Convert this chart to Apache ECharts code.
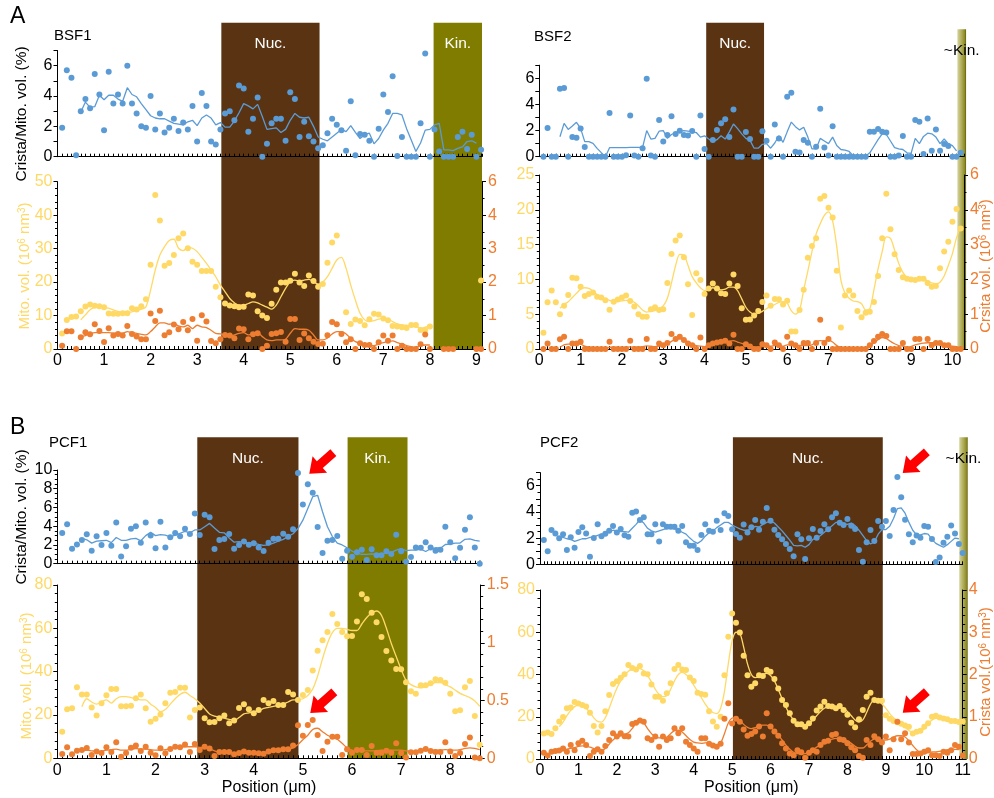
<!DOCTYPE html>
<html>
<head>
<meta charset="utf-8">
<script src="https://cdn.jsdelivr.net/npm/echarts@6/dist/echarts.min.js"></script>
<style>html,body{margin:0;padding:0;background:#fff}#c{width:994px;height:798px}</style>
</head>
<body>
<div id="c"></div>
<script>
// ---------------- DATA ----------------
const POSITIONS = [
0.1,0.2,0.3,0.4,0.5,0.6,0.7,0.8,0.9,1.0,
1.1,1.2,1.3,1.4,1.5,1.6,1.7,1.8,1.9,2.0,
2.1,2.2,2.3,2.4,2.5,2.6,2.7,2.8,2.9,3.0,
3.1,3.2,3.3,3.4,3.5,3.6,3.7,3.8,3.9,4.0,
4.1,4.2,4.3,4.4,4.5,4.6,4.7,4.8,4.9,5.0,
5.1,5.2,5.3,5.4,5.5,5.6,5.7,5.8,5.9,6.0,
6.1,6.2,6.3,6.4,6.5,6.6,6.7,6.8,6.9,7.0,
7.1,7.2,7.3,7.4,7.5,7.6,7.7,7.8,7.9,8.0,
8.1,8.2,8.3,8.4,8.5,8.6,8.7,8.8,8.9,9.0,
9.1,9.2,9.3,9.4,9.5,9.6,9.7,9.8,9.9,10.0,
10.1,10.2,10.3,10.4,10.5,10.6,10.7,10.8,10.9,11.0];

// ---- BSF1 ----
const BSF1_ratio = [
1.9,5.7,5.2,0.1,3.0,3.8,3.2,5.45,4.1,1.75,
5.6,3.5,4.1,3.5,6.0,3.5,2.85,2.0,1.9,4.0,
1.8,2.85,1.6,1.9,2.5,1.7,2.25,1.8,3.35,1.0,
4.2,3.35,1.0,0.8,1.8,2.85,3.0,2.4,4.7,4.5,
1.65,2.5,3.9,0,0.85,2.2,2.5,2.5,1.05,4.25,
3.8,1.3,2.3,1.35,1.0,0.55,0.75,1.55,2.5,2.1,
1.75,0.4,3.65,0.1,1.5,1.45,1.05,0,1.85,4.1,
2.95,5.3,0.05,1.3,0,0,0,2.2,6.8,0,
1.8,0.35,0,0,0,1.3,1.65,0.5,1.45,0,0.45];
const BSF1_ratioAvg = [
null,null,null,null,2.95,3.6,3.25,3.3,4.05,3.75,
4.05,4.05,3.8,3.65,4.55,4.1,3.95,3.5,3.1,2.7,
2.55,2.5,2.5,2.35,2.2,2.15,2.1,2.3,2.4,2.05,
2.55,2.75,2.55,2.1,2.25,1.95,1.95,2.35,2.9,3.5,
3.35,3.15,3.45,2.65,1.8,1.85,1.9,1.6,1.8,2.4,
2.85,2.6,2.55,2.6,2.0,1.3,1.15,1.05,1.3,1.55,
1.8,1.65,2.05,1.6,1.2,1.45,1.55,0.85,1.2,1.75,
2.2,2.85,2.85,2.75,1.85,1.1,0.35,0.9,1.75,1.8,
2.1,2.2,0.45,0.45,0.4,0.55,0.65,1.0,1.05,0.9,null];
const BSF1_mito = [
4.6,8.7,9.6,9.7,11.3,12.7,13.3,12.9,12.8,12.5,
10.6,10.5,10.5,10.7,10.7,12.2,11.8,12.8,14.9,25.2,
46.0,38.4,24.9,25.7,28.1,33.1,34.5,30.1,26.1,25.2,
23.3,23.3,23.3,18.6,15.5,13.6,13.0,12.8,12.5,12.6,
16.3,16.0,11.3,10.0,9.3,13.5,17.7,19.9,19.9,20.4,
22.5,19.9,18.8,22.0,20.3,18.6,19.4,25.8,31.8,33.9,
null,11.0,7.5,8.8,8.4,7.1,8.9,10.5,10.3,9.1,
8.6,6.9,6.7,6.5,6.3,7.2,7.2,5.7,5.7,6.7,
null,null,null,null,null,null,null,null,null,null,20.5];
const BSF1_mitoAvg = [
null,null,null,null,8.7,10.2,11.7,12.6,13.1,12.6,
12.2,11.7,11.2,10.9,10.9,11.1,11.5,11.9,12.6,17.6,
23.6,28.1,30.6,32.4,32.8,30.1,29.4,30.4,30.1,29.1,
27.4,25.6,23.6,21.6,19.1,17.1,15.1,13.8,13.1,13.1,
13.6,14.1,13.8,13.1,12.5,11.9,13.1,15.6,18.1,20.1,
20.6,20.3,20.6,20.8,20.1,19.4,20.0,21.6,24.1,26.6,
27.4,24.1,19.1,14.6,10.7,8.7,8.2,8.5,8.9,9.2,
8.9,8.2,7.5,7.2,7.1,6.7,6.7,6.2,6.5,6.9,
null,null,null,null,null,null,null,null,null,null,null];
const BSF1_crista = [
0.10,0.53,0.53,0,0.35,0.50,0.44,0.74,0.54,0.21,
0.62,0.40,0.45,0.40,0.69,0.45,0.37,0.29,0.29,1.06,
0.84,1.14,0.41,0.50,0.73,0.59,0.81,0.56,0.90,0.25,
1.01,0.82,0.24,0.17,0.29,0.42,0.40,0.32,0.61,0.59,
0.29,0.44,0.47,0,0.10,0.45,0.47,0.51,0.22,0.90,
0.90,0.27,0.46,0.32,0.22,0.15,0.16,0.41,0.81,0.74,
0.45,0.20,0.29,0,0.17,0.12,0.12,0,0.20,0.40,
0.25,0.40,0,0.10,0,0,0,0.14,0.43,0,
null,null,0,0,0,null,null,null,null,0,0];
const BSF1_cristaAvg = [
null,null,null,null,0.37,0.40,0.45,0.49,0.49,0.49,
0.49,0.47,0.47,0.47,0.52,0.49,0.47,0.44,0.42,0.52,
0.66,0.78,0.78,0.74,0.76,0.69,0.66,0.71,0.61,0.71,
0.66,0.64,0.56,0.47,0.45,0.42,0.39,0.42,0.47,0.49,
0.42,0.47,0.49,0.37,0.27,0.25,0.27,0.27,0.29,0.47,
0.61,0.59,0.59,0.56,0.42,0.27,0.27,0.33,0.45,0.52,
0.52,0.45,0.32,0.22,0.17,0.15,0.12,0.10,0.15,0.19,
0.22,0.24,0.19,0.15,0.10,0.07,0.05,0.10,0.12,0.12,
null,null,null,null,null,null,null,null,null,null,null];

// ---- BSF2 ----
const BSF2_ratio = [
0,2.2,0,0,5.2,5.25,0,1.5,1.45,2.15,
0.75,0,0,0,0,0,3.35,0,0,0,
0.12,3.15,0.1,0,0.65,5.97,0.1,0,2.8,1.17,
1.66,3.09,1.73,1.99,1.66,1.63,1.96,0,3.16,0.59,
0,1.28,2.04,2.55,2.86,1.5,3.62,0,0,1.89,
1.35,0,0,1.94,1.22,0,2.47,1.4,0,4.59,
4.9,0.38,0.33,1.28,1.07,0,0.77,3.67,0.71,0.1,
2.32,0,0,0,0,0,0,0,0,1.91,
1.91,2.12,1.91,1.86,0,0,0.1,1.58,0,0,
2.8,2.68,0.2,2.93,0.46,2.09,0.46,0.97,0.82,0,0,0.3];
const BSF2_ratioAvg = [
null,null,null,null,1.53,2.55,2.09,2.35,2.63,2.17,
1.15,1.15,1.02,0.64,0.31,0.0,0.69,0.69,0.70,0.70,
0.70,0.71,0.71,0.72,0.72,2.0,1.35,1.4,1.95,2.0,
1.4,1.7,1.85,1.95,2.0,1.95,1.9,1.85,1.5,1.6,
1.35,1.15,1.3,1.6,1.35,1.9,2.5,2.15,1.75,1.4,
1.25,0.65,0.65,0.95,1.0,0.65,1.05,1.6,1.1,1.9,
2.65,2.3,2.05,2.25,1.5,0.6,0.6,1.4,1.2,1.0,
1.5,0.85,0.55,0.5,0.4,0.05,0.05,0.05,0.05,0.3,
0.8,1.3,1.75,1.7,1.2,0.7,0.6,0.55,0.3,0.25,
1.4,1.0,1.55,1.8,1.75,1.5,1.0,1.35,1.0,0.85,0.45,null];
const BSF2_mito = [
2.35,6.7,8.4,6.7,5.0,6.2,7.75,10.25,10.15,8.96,
7.6,7.9,8.1,7.5,7.4,7.0,5.65,6.8,7.1,7.4,
7.7,6.9,6.1,5.0,4.65,4.65,5.7,6.0,5.6,5.7,
9.5,13.65,15.6,16.3,13.2,9.3,4.9,10.9,9.9,7.9,
8.7,9.4,8.7,8.0,7.9,9.4,10.7,9.05,5.85,4.2,
4.25,4.8,5.45,6.75,7.7,6.2,7.2,7.15,6.4,6.95,
2.5,2.5,5.6,8.5,13.1,14.8,15.9,21.6,22.0,20.3,
18.9,11.25,3.1,7.7,8.4,7.7,5.45,4.55,5.2,5.35,
6.75,10.5,15.9,22.3,17.2,13.6,11.35,10.3,10.1,10.0,
9.9,10.1,10.1,9.5,8.95,9.05,11.6,14.0,15.4,18.3,20.1,17.3];
const BSF2_mitoAvg = [
null,null,null,null,5.85,6.4,6.8,7.4,8.0,8.6,
8.8,8.7,8.3,7.8,7.4,7.2,7.0,6.8,6.8,6.9,
7.0,7.0,6.7,6.2,5.6,5.3,5.4,5.5,5.8,6.2,
7.3,9.5,12.0,13.6,13.5,12.0,10.4,9.5,8.8,8.4,
8.5,8.8,8.6,8.5,8.6,8.9,8.9,8.4,7.2,6.0,
5.3,5.0,5.1,5.4,5.8,6.1,6.4,6.7,6.8,6.6,
5.5,5.0,5.6,8.5,11.2,14.0,16.5,18.0,19.2,19.7,
18.4,14.7,9.9,8.0,7.3,6.9,6.8,6.5,5.6,5.8,
8.5,11.5,14.0,16.1,15.9,14.2,12.3,11.0,10.3,10.1,
10.0,10.0,10.0,9.8,9.5,9.4,9.6,10.5,12.0,13.7,16.0,17.5];
const BSF2_crista = [
0,0.16,0,0,0.28,0.35,0,0.16,0.16,0.21,
0,0,0,0,0,0,0.21,0,0,0,
0,0.24,0,0,0,0.29,0,0,0.16,0.11,
0.17,0.43,0.29,0.35,0.26,0.16,0.11,0,0.33,0,
0.11,0.16,0.19,0.21,0.24,0.16,0.41,0,0,0.14,
0.07,0,0,0.14,0.11,0,0.19,0.11,0,0.35,
0.16,0.11,0,0.17,0.17,0,0.17,0.84,0.17,0.29,
0,0,0,0,0,0,0,0,0,0.11,
0.23,0.35,0.43,0.37,0,0,0,0.17,0,0,
0.29,0.29,0,0.29,0.11,0.17,0.17,0.11,0.11,0,0,0];
const BSF2_cristaAvg = [
null,null,null,null,0.05,0.12,0.14,0.14,0.15,0.14,
0.08,0.05,0.04,0.03,0.03,0.03,0.05,0.05,0.04,0.04,
0.05,0.06,0.05,0.05,0.07,0.09,0.08,0.07,0.08,0.10,
0.15,0.22,0.28,0.30,0.27,0.20,0.14,0.10,0.08,0.07,
0.10,0.14,0.17,0.20,0.22,0.22,0.24,0.20,0.16,0.14,
0.10,0.05,0.05,0.07,0.08,0.08,0.10,0.10,0.08,0.12,
0.12,0.10,0.10,0.10,0.10,0.12,0.20,0.24,0.23,0.26,
0.20,0.10,0.05,0.03,0.03,0.02,0.02,0.02,0.03,0.08,
0.18,0.27,0.33,0.30,0.22,0.15,0.10,0.08,0.05,0.07,
0.12,0.15,0.17,0.18,0.18,0.17,0.16,0.12,0.08,0.08,0.07,null];

// ---- PCF1 ----
const PCF1_ratio = [
3.27,4.2,1.6,2.06,2.53,3.13,1.39,2.92,2.0,3.27,
1.92,4.41,0.78,1.85,3.74,3.99,2.24,4.41,3.02,1.64,
4.48,1.74,2.81,3.27,2.92,3.74,3.17,5.37,3.06,5.23,
4.95,1.57,2.53,2.63,3.17,1.6,2.0,2.38,2.03,2.17,
1.74,1.35,2.24,2.67,2.67,3.2,2.88,3.67,9.68,6.33,
8.47,7.58,3.91,1.14,2.46,2.53,2.95,0.53,1.39,0.75,
1.21,1.49,0.39,1.53,0.89,0.89,1.32,1.03,3.1,1.32,
0.21,0.71,1.74,1.71,2.28,1.74,1.39,1.49,3.95,2.28,
0.57,1.71,3.63,4.95,1.74,0];
const PCF1_ratioAvg = [
null,null,null,null,2.7,2.55,2.2,2.4,2.45,2.5,
2.25,2.8,2.5,2.5,2.65,2.7,2.45,3.0,3.35,3.0,
3.1,3.05,2.85,3.05,3.25,3.45,3.3,3.6,3.6,3.95,
4.3,3.8,3.35,3.3,2.75,2.3,2.35,2.3,2.2,2.2,
2.05,1.95,2.0,2.2,2.4,2.6,2.9,3.2,3.75,4.65,
5.9,7.15,7.3,5.55,3.95,2.9,2.2,2.0,1.7,1.35,
1.1,1.0,1.0,1.05,1.0,1.05,1.15,1.2,1.45,1.6,
1.4,1.45,1.45,1.55,1.3,1.6,1.7,1.65,2.05,2.1,
2.2,2.2,2.6,2.65,2.5,2.4];
const PCF1_mito = [
12.3,22.6,23.1,32.8,29.5,29.4,23.4,19.7,25.4,29.1,
32.0,32.0,24.0,24.0,24.3,27.7,29.5,23.1,16.9,18.2,
20.2,25.4,30.3,30.6,32.6,32.6,18.8,22.3,23.4,18.5,
16.6,16.8,18.5,19.7,16.2,17.4,23.2,24.9,22.6,20.8,
22.3,26.9,25.4,26.5,24.6,24.6,30.6,29.5,26.9,29.2,
31.5,40.5,49.7,54.5,58.3,66.6,62.0,58.3,56.3,56.5,
63.1,75.7,73.5,67.2,62.8,56.0,49.5,45.2,41.2,41.1,
35.1,30.9,29.8,33.7,33.7,34.6,36.5,36.2,34.9,29.8,
21.7,22.2,32.8,35.7,19.5,6.2];
const PCF1_mitoAvg = [
null,null,null,null,23.8,27.5,26.0,25.0,26.0,27.0,
25.5,27.5,28.5,28.5,28.0,27.5,27.0,27.0,25.0,23.5,
21.5,22.5,25.0,27.5,29.5,30.5,29.0,27.5,25.5,23.0,
20.5,19.5,19.0,18.5,18.0,17.5,18.8,20.5,21.0,21.5,
22.0,23.0,23.5,24.0,24.5,25.0,26.0,27.0,27.0,27.5,
29.0,32.0,38.0,46.0,53.0,58.0,60.0,60.0,59.5,59.0,
59.0,62.0,65.0,67.0,68.0,66.0,60.0,53.0,47.0,41.0,
36.0,34.0,33.0,32.5,33.0,34.0,35.0,35.0,34.0,33.0,
31.5,30.0,29.0,28.0,26.5,24.0];
const PCF1_crista = [
0.037,0.095,0.035,0.066,0.072,0.089,0.029,0.058,0.046,0.095,
0.055,0.138,0.014,0.046,0.092,0.11,0.063,0.10,0.049,0.026,
0.087,0.043,0.081,0.10,0.095,0.12,0.055,0.124,0.072,0.10,
0.084,0.02,0.055,0.055,0.055,0.035,0.046,0.058,0.049,0.049,
0.043,0.04,0.058,0.069,0.069,0.078,0.078,0.11,0.286,0.196,
0.288,0.332,0.202,0.063,0.144,0.187,0.187,0.029,0.078,0.049,
0.072,0.072,0.029,0.107,0.049,0.049,0.066,0.049,0.13,0.046,
0.006,0.052,0.052,0.066,0.081,0.063,0.055,0.055,0.138,0.058,
0.02,0.046,0.124,0.179,0.006,0];
const PCF1_cristaAvg = [
null,null,null,null,0.06,0.07,0.065,0.06,0.062,0.07,
0.075,0.08,0.07,0.07,0.08,0.085,0.08,0.08,0.075,0.07,
0.07,0.075,0.08,0.09,0.095,0.1,0.1,0.1,0.095,0.09,
0.08,0.065,0.055,0.05,0.045,0.045,0.045,0.045,0.045,0.045,
0.045,0.045,0.05,0.06,0.065,0.07,0.08,0.09,0.12,0.16,
0.2,0.25,0.26,0.23,0.2,0.18,0.165,0.13,0.09,0.07,
0.065,0.065,0.065,0.065,0.065,0.07,0.07,0.07,0.07,0.07,
0.065,0.06,0.06,0.065,0.07,0.07,0.07,0.07,0.075,0.07,
0.07,0.075,0.085,0.09,0.085,0.075];

// ---- PCF2 ----
const PCF2_ratio = [
1.86,0.99,2.62,2.36,1.98,2.29,1.09,2.06,1.27,2.47,
2.82,2.36,0.58,2.0,3.05,2.14,2.34,2.57,2.92,2.42,
2.7,2.21,2.11,3.94,4.04,3.38,3.59,2.29,2.29,3.05,
1.75,3.05,2.87,2.87,2.87,2.57,2.92,1.68,1.42,1.42,
1.09,2.24,3.05,2.57,2.49,3.33,2.62,3.89,3.69,2.67,
2.31,2.03,3.03,2.42,2.82,3.38,2.64,3.25,4.3,3.33,
2.64,2.24,1.91,1.55,1.17,0.61,2.29,1.91,0.41,1.98,
2.7,2.03,2.54,3.05,2.67,3.59,3.89,3.18,3.0,3.46,
2.95,2.7,1.09,0.2,1.68,2.62,1.78,3.31,2.87,3.31,
2.16,4.14,6.66,5.11,3.41,2.29,1.68,2.19,2.03,2.92,
2.87,1.93,0.18,0.51,1.65,2.11,2.97,2.36,1.55,0.86];
const PCF2_ratioAvg = [
null,null,null,null,2.1,2.05,1.95,1.9,1.75,1.85,
1.95,1.95,2.05,2.1,2.2,2.3,2.35,2.45,2.6,2.55,
2.5,2.5,2.45,2.75,3.05,3.4,3.15,2.75,2.55,2.45,
2.55,2.65,2.75,2.75,2.7,2.6,2.45,2.3,2.0,1.75,
1.6,1.8,2.15,2.4,2.55,2.8,3.0,3.2,3.2,3.0,
2.85,2.7,2.6,2.6,2.75,2.9,2.85,3.05,3.2,3.3,
3.15,2.85,2.55,2.2,1.85,1.45,1.4,1.45,1.3,1.5,
1.9,2.0,2.2,2.45,2.7,2.95,3.2,3.2,3.1,3.05,
3.15,2.95,2.6,2.2,1.8,1.55,1.7,2.3,2.65,2.65,
2.9,3.5,4.25,4.3,3.9,3.2,2.6,2.25,2.25,2.35,
2.3,1.9,1.6,1.45,1.3,1.5,1.75,2.0,1.95,null];
const PCF2_mito = [
12.1,12.5,11.8,14.5,17.7,19.9,24.0,24.4,27.0,26.3,
25.6,24.8,21.9,15.6,12.5,15.6,22.6,30.3,35.5,36.8,
38.5,40.1,44.5,43.1,42.4,44.0,40.5,40.1,35.3,29.5,
29.5,27.6,31.1,35.8,42.6,44.5,42.4,42.1,38.6,36.9,
31.4,30.8,30.4,22.6,17.7,15.3,20.0,39.7,57.9,68.9,
64.5,59.9,48.9,39.6,34.2,35.8,39.6,39.3,42.1,41.3,
37.9,33.4,27.9,25.6,21.6,18.1,16.4,16.4,15.3,16.9,
19.2,22.9,24.8,27.1,25.1,24.8,24.0,25.1,23.2,21.0,
17.2,15.0,18.8,23.2,29.5,31.4,27.9,27.6,27.6,20.7,
19.1,18.0,17.4,16.7,15.8,15.3,12.1,12.9,13.4,15.3,
16.9,20.0,20.5,19.7,19.2,18.8,18.0,18.0,17.5,17.7];
const PCF2_mitoAvg = [
null,null,null,null,15.3,17.5,20.5,23.0,24.8,25.6,
25.3,24.0,22.0,19.5,17.8,17.5,19.5,24.0,29.0,33.5,
37.0,39.5,41.5,42.5,43.0,42.8,41.8,39.5,36.5,33.0,
30.5,29.5,30.0,33.0,37.0,40.0,41.0,40.0,38.0,35.0,
32.0,29.0,26.0,23.5,22.0,21.5,24.0,32.0,45.0,56.0,
60.0,59.5,53.0,45.0,40.0,38.5,39.0,40.0,40.5,39.5,
37.0,33.0,28.5,24.5,21.0,18.5,16.5,15.5,15.5,16.5,
18.5,20.5,22.5,24.0,24.8,25.0,24.8,24.5,24.0,22.5,
20.5,18.5,17.5,18.5,22.0,26.0,28.0,27.5,26.0,24.0,
21.5,19.5,18.0,16.5,15.0,13.5,12.5,12.0,12.8,14.5,
16.5,18.5,19.3,19.2,18.8,18.3,18.0,17.8,17.5,null];
const PCF2_crista = [
0.15,0.08,0.17,0.19,0.2,0.25,0.17,0.33,0.21,0.37,
0.43,0.33,0.07,0.17,0.23,0.17,0.31,0.45,0.61,0.53,
0.61,0.54,0.53,0.83,0.86,0.91,0.88,0.49,0.45,0.53,
0.29,0.53,0.45,0.49,0.73,0.61,0.73,0.41,0.33,0.25,
0.17,0.49,0.49,0.36,0.32,0.29,0.36,0.95,1.32,0.84,
0.95,0.88,0.7,0.55,0.59,0.65,0.77,0.53,1.08,0.77,
0.65,0.55,0.37,0.25,0.13,0.09,0.21,0.16,0.03,0.15,
0.21,0.17,0.33,0.41,0.43,0.57,0.59,0.47,0.45,0.37,
0.28,0.21,0.07,0.03,0.45,0.33,0.54,0.47,0.39,0.53,
0.21,0.47,0.88,0.47,0.61,0.39,0.12,0.12,0.13,0.17,
0.21,0.09,0.09,0.07,0.17,0.15,0.21,0.33,0.29,0.08];
const PCF2_cristaAvg = [
null,null,null,null,0.18,0.2,0.23,0.25,0.27,0.3,
0.31,0.3,0.28,0.25,0.22,0.2,0.25,0.35,0.45,0.52,
0.55,0.58,0.62,0.72,0.85,0.88,0.85,0.72,0.6,0.52,
0.5,0.5,0.52,0.6,0.67,0.68,0.64,0.55,0.46,0.4,
0.38,0.37,0.38,0.38,0.36,0.34,0.38,0.6,0.85,0.97,
0.98,0.92,0.82,0.75,0.72,0.74,0.78,0.8,0.8,0.75,
0.67,0.57,0.45,0.33,0.23,0.16,0.13,0.12,0.13,0.17,
0.22,0.28,0.33,0.38,0.43,0.47,0.49,0.49,0.47,0.43,
0.37,0.3,0.26,0.26,0.33,0.42,0.47,0.47,0.45,0.45,
0.47,0.52,0.55,0.55,0.52,0.43,0.32,0.22,0.15,0.13,
0.15,0.17,0.17,0.18,0.2,0.22,0.23,0.23,0.22,null];

// Shaded regions (positions in µm)
const BSF1_regions = [{label:'Nuc.', from:3.52, to:5.63, kind:'nuc'}, {label:'Kin.', from:8.08, to:9.12, kind:'kin'}];
const BSF2_regions = [{label:'Nuc.', from:4.04, to:5.44, kind:'nuc'}, {label:'~Kin.', from:10.12, to:10.33, kind:'edge', top:0.98}];
const PCF1_regions = [{label:'Nuc.', from:2.85, to:4.91, kind:'nuc'}, {label:'Kin.', from:5.91, to:7.13, kind:'kin'}];
const PCF2_regions = [{label:'Nuc.', from:5.02, to:8.92, kind:'nuc'}, {label:'~Kin.', from:10.91, to:11.13, kind:'edge', top:1}];

// Tick labels
const BSF_ratioTickValues = [0,2,4,6];
const BSF_ratioTickLabels = ['0','2','4','6'];
const BSF_cristaTickValues = [0,1,2,3,4,5];
const BSF_cristaTickLabels = ['0','1','2','3','4','6'];
const PCF2_ratioTickValues = [0,2,4,6];
const PCF2_ratioTickLabels = ['0','2','4','6'];

// Red arrows (tips, in data coordinates)
const PCF1_arrows = [{sub:'top', x:5.13, y:9.6}, {sub:'bottom', x:5.15, y:20.9}];
const PCF2_arrows = [{sub:'top', x:9.44, y:6.97}, {sub:'bottom', x:9.44, y:21.9}];

// ---------------- STYLE / LAYOUT ----------------
const FONT = '"Liberation Sans", Arial, Helvetica, sans-serif';
const BLUE = '#5b9bd5', YELLOW = '#ffd966', ORANGE = '#ed7d31';
const NUC = '#5a3312', KIN = '#7f7c00';
const TICK_FONT = 16;

const panels = [
  { n:'BSF1', count:91, ratio:BSF1_ratio, ratioAvg:BSF1_ratioAvg, mito:BSF1_mito, mitoAvg:BSF1_mitoAvg, crista:BSF1_crista, cristaAvg:BSF1_cristaAvg,
    regions:BSF1_regions, xMax:9.12,
    L:{left:57.5, width:424.5, topT:50.5, hT:106.2, topB:181.7, hB:167.3, bgTop:22.7},
    ratioAx:{max:7, interval:1, minor:0, tv:BSF_ratioTickValues, tl:BSF_ratioTickLabels},
    mitoAx:{max:50, interval:10, minor:5},
    cristaAx:{max:5, interval:1, minor:2, tv:BSF_cristaTickValues, tl:BSF_cristaTickLabels}, xName:null },
  { n:'BSF2', count:102, ratio:BSF2_ratio, ratioAvg:BSF2_ratioAvg, mito:BSF2_mito, mitoAvg:BSF2_mitoAvg, crista:BSF2_crista, cristaAvg:BSF2_cristaAvg,
    regions:BSF2_regions, xMax:10.28,
    L:{left:539.3, width:424.7, topT:65.2, hT:91.5, topB:175, hB:174, bgTop:22.7},
    ratioAx:{max:7, interval:1, minor:0, tv:BSF_ratioTickValues, tl:BSF_ratioTickLabels},
    mitoAx:{max:25, interval:5, minor:5},
    cristaAx:{max:5, interval:1, minor:2, tv:BSF_cristaTickValues, tl:BSF_cristaTickLabels}, xName:null },
  { n:'PCF1', count:86, ratio:PCF1_ratio, ratioAvg:PCF1_ratioAvg, mito:PCF1_mito, mitoAvg:PCF1_mitoAvg, crista:PCF1_crista, cristaAvg:PCF1_cristaAvg,
    regions:PCF1_regions, xMax:8.62, arrows:PCF1_arrows,
    L:{left:57.3, width:423.4, topT:470, hT:93.7, topB:585, hB:173.3, bgTop:437.3},
    ratioAx:{max:10, interval:2, minor:4},
    mitoAx:{max:80, interval:20, minor:5},
    cristaAx:{max:1.5, interval:0.5, minor:5}, xName:'Position (μm)' },
  { n:'PCF2', count:110, ratio:PCF2_ratio, ratioAvg:PCF2_ratioAvg, mito:PCF2_mito, mitoAvg:PCF2_mitoAvg, crista:PCF2_crista, cristaAvg:PCF2_cristaAvg,
    regions:PCF2_regions, xMax:11, arrows:PCF2_arrows,
    L:{left:540, width:422.7, topT:472.6, hT:91.7, topB:590, hB:169, bgTop:437.3},
    ratioAx:{max:7, interval:1, minor:2, tv:PCF2_ratioTickValues, tl:PCF2_ratioTickLabels},
    mitoAx:{max:80, interval:20, minor:5},
    cristaAx:{max:4, interval:1, minor:5}, xName:'Position (μm)' }
];

function pts(pos, vals){
  const out = [];
  for (let i = 0; i < vals.length; i++) if (vals[i] !== null && vals[i] !== undefined) out.push([pos[i], vals[i]]);
  return out;
}
function labelFmt(ax){
  if (!ax.tv) return v => String(+v.toFixed(3));
  return v => { const i = ax.tv.findIndex(t => Math.abs(t - v) < 1e-6); return i >= 0 ? ax.tl[i] : ''; };
}
function xAx(gi, max, showLabel, name){
  return {
    type:'value', gridIndex:gi, min:0, max:max, interval:0.1, z:3,
    axisLine:{show:true, onZero:false, lineStyle:{color:'#000', width:1}},
    axisTick:{show:true, inside:true, length:3, lineStyle:{color:'#000', width:1}},
    minorTick:{show:false}, splitLine:{show:false},
    axisLabel:{show:showLabel, color:'#000', fontSize:TICK_FONT, fontFamily:FONT, margin:4,
      formatter: v => (Math.abs(v - Math.round(v)) < 1e-6 ? String(Math.round(v)) : '')},
    name: name || '', nameLocation:'middle', nameGap:21,
    nameTextStyle:{color:'#000', fontSize:16, fontFamily:FONT}
  };
}
function yAx(gi, ax, side, color){
  return {
    type:'value', gridIndex:gi, min:0, max:ax.max, interval:ax.interval, position:side, z:3,
    axisLine:{show:true, onZero:false, lineStyle:{color:'#000', width:1}},
    axisTick:{show:true, inside:false, length:4, lineStyle:{color:'#000', width:1}},
    minorTick:{show: ax.minor > 0, splitNumber: ax.minor || 5, length:2.5, lineStyle:{color:'#000', width:1}},
    splitLine:{show:false}, minorSplitLine:{show:false},
    axisLabel:{show:true, color:color, fontSize:TICK_FONT, fontFamily:FONT, margin: side === 'right' ? 6 : 5, formatter: labelFmt(ax)}
  };
}

const grids = [], xAxes = [], yAxes = [], series = [];
const EXTRA = 8;
panels.forEach((p, pi) => {
  const L = p.L, pos = POSITIONS.slice(0, p.count);
  const bottom = L.topB + L.hB;
  const gT = grids.length;
  grids.push({left:L.left, top:L.topT, width:L.width, height:L.hT, show:false, outerBoundsMode:'none', containLabel:false});
  grids.push({left:L.left, top:L.topB, width:L.width, height:L.hB, show:false, outerBoundsMode:'none', containLabel:false});
  grids.push({left:L.left, top:L.bgTop, width:L.width + EXTRA, height:bottom - L.bgTop, show:false, outerBoundsMode:'none', containLabel:false});
  const xi = xAxes.length;
  xAxes.push(xAx(gT, p.xMax, false));
  xAxes.push(xAx(gT + 1, p.xMax, true, p.xName));
  xAxes.push({type:'value', gridIndex:gT + 2, min:0, max:p.xMax * (L.width + EXTRA) / L.width, show:false});
  const yi = yAxes.length;
  yAxes.push(yAx(gT, p.ratioAx, 'left', '#000'));
  yAxes.push(yAx(gT + 1, p.mitoAx, 'left', YELLOW));
  yAxes.push(yAx(gT + 1, p.cristaAx, 'right', ORANGE));
  yAxes.push({type:'value', gridIndex:gT + 2, min:0, max:1, show:false});
  p._xi = xi; p._yi = yi;

  // background shaded regions
  series.push({
    type:'line', xAxisIndex:xi + 2, yAxisIndex:yi + 3, data:[], silent:true, z:1, animation:false,
    markArea:{ silent:true, animation:false,
      data: p.regions.map(r => {
        const edge = r.kind === 'edge';
        const color = r.kind === 'nuc' ? NUC : (r.kind === 'kin' ? KIN :
          {type:'linear', x:0, y:0, x2:1, y2:0, colorStops:[{offset:0, color:'#d6d49c'}, {offset:0.55, color:'#a9a650'}, {offset:0.85, color:'#8c8a26'}, {offset:1, color:'#5f5d05'}]});
        return [
          {xAxis:r.from, yAxis:0, itemStyle:{color:color, borderWidth:0}, name:r.label,
           label:{show:true, position:'insideTop', distance:13, color: edge ? '#000' : '#fff', fontSize:15.5, fontFamily:FONT}},
          {xAxis:r.to, yAxis: r.top !== undefined ? r.top : 1}
        ];
      })
    }
  });
  const dot = (x, y, data, color) => ({type:'scatter', xAxisIndex:x, yAxisIndex:y, data, symbolSize:6, itemStyle:{color:color, opacity:1}, z:5, silent:true, animation:false});
  const line = (x, y, data, color, smooth) => ({type:'line', xAxisIndex:x, yAxisIndex:y, data, showSymbol:false, smooth:smooth, lineStyle:{color:color, width:1.3}, z:4, silent:true, animation:false, connectNulls:false});
  series.push(dot(xi, yi, pts(pos, p.ratio), BLUE));
  series.push(line(xi, yi, pts(pos, p.ratioAvg), BLUE, false));
  series.push(dot(xi + 1, yi + 1, pts(pos, p.mito), YELLOW));
  series.push(line(xi + 1, yi + 1, pts(pos, p.mitoAvg), YELLOW, 0.3));
  series.push(dot(xi + 1, yi + 2, pts(pos, p.crista), ORANGE));
  series.push(line(xi + 1, yi + 2, pts(pos, p.cristaAvg), ORANGE, 0.3));
});

const chart = echarts.init(document.getElementById('c'), null, {renderer:'canvas'});
chart.setOption({
  animation:false, backgroundColor:'#fff',
  textStyle:{fontFamily:FONT},
  grid:grids, xAxis:xAxes, yAxis:yAxes, series:series
});

// ---------------- TEXT & ARROWS ----------------
function txt(x, y, text, opts){
  opts = opts || {};
  return {type:'text', x, y, rotation: opts.rot || 0, z:20, silent:true,
    style:{text, fill: opts.color || '#000', fontSize: opts.size || 15, fontFamily:FONT,
      align: opts.align || 'left', verticalAlign:'middle',
      rich:{s:{fontSize:10, fill: opts.color || '#000', fontFamily:FONT, verticalAlign:'top', lineHeight:10}}}};
}
const R = Math.PI / 2;
const graphics = [
  txt(10, 17, 'A', {size:23}),
  txt(10, 428, 'B', {size:23}),
  txt(54, 36, 'BSF1'), txt(534, 37, 'BSF2'), txt(49, 443, 'PCF1'), txt(540, 443, 'PCF2'),
  txt(22, 114, 'Crista/Mito. vol. (%)', {rot:R, align:'center', size:15.5}),
  txt(25, 266, 'Mito. vol. (10{s|6} nm{s|3})', {rot:R, align:'center', size:15, color:YELLOW}),
  txt(986, 266, 'Crsita vol. (10{s|6} nm{s|3})', {rot:R, align:'center', size:15, color:ORANGE}),
  txt(22, 517, 'Crista/Mito. vol. (%)', {rot:R, align:'center', size:15.5}),
  txt(27, 676, 'Mito. vol. (10{s|6} nm{s|3})', {rot:R, align:'center', size:15, color:YELLOW}),
  txt(986, 672, 'Crista vol.(10{s|6} nm{s|3})', {rot:R, align:'center', size:15, color:ORANGE})
];
const DIR = [-24, 21];
const dl = Math.hypot(DIR[0], DIR[1]);
const d = [DIR[0] / dl, DIR[1] / dl], nrm = [-d[1], d[0]];
const ARROW_SHAPE = [[0,0],[-14,-11],[-14,-4.5],[-32,-4.5],[-32,4.5],[-14,4.5],[-14,11]];
panels.forEach(p => {
  (p.arrows || []).forEach(a => {
    const finder = a.sub === 'top' ? {xAxisIndex:p._xi, yAxisIndex:p._yi} : {xAxisIndex:p._xi + 1, yAxisIndex:p._yi + 1};
    const tip = chart.convertToPixel(finder, [a.x, a.y]);
    const points = ARROW_SHAPE.map(([u, v]) => [tip[0] + u * d[0] + v * nrm[0], tip[1] + u * d[1] + v * nrm[1]]);
    graphics.push({type:'polygon', z:20, silent:true, shape:{points}, style:{fill:'#ff0000', stroke:null}});
  });
});
chart.setOption({graphic:{elements:graphics}});
</script>
</body>
</html>
